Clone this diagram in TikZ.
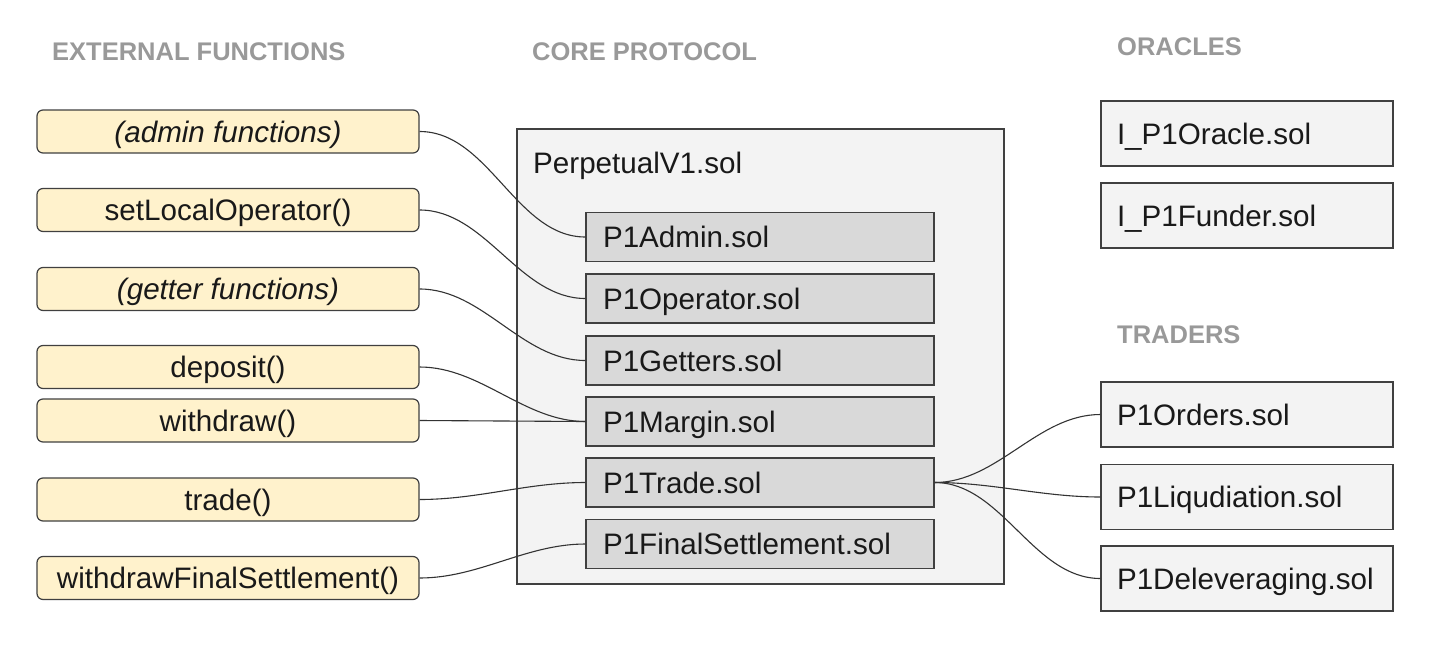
\documentclass[tikz,border=0pt]{standalone}
\usepackage{fontspec}
\setmainfont{Liberation Sans}
\begin{document}
\begin{tikzpicture}[x=1pt,y=-1pt,
  every node/.style={font=\fontsize{29.6}{34}\selectfont, text=black!90},
  tx/.style={text height=21.2pt, text depth=0pt},
  hdr/.style={font=\fontsize{25.5}{30}\selectfont\bfseries, text=hdrgray, anchor=west, inner sep=0pt, text height=18.3pt, text depth=0pt},
  lbox/.style={tx, draw=black!75, line width=1.2pt, fill=yfill, rounded corners=6pt, minimum width=382pt, minimum height=43pt, inner sep=0pt},
  ibox/.style={tx, draw=black!75, line width=1.2pt, fill=gray!30, minimum height=49pt, inner xsep=17pt, inner ysep=0pt, text width=314pt, align=left},
  obox/.style={tx, draw=black!75, line width=1.2pt, fill=lightfill, minimum height=65pt, inner xsep=16pt, inner ysep=0pt, text width=260pt, align=left},
  conn/.style={draw=black!80, line width=1.1pt}
]
\definecolor{yfill}{HTML}{FFF2CC}
\definecolor{lightfill}{HTML}{F3F3F3}
\definecolor{hdrgray}{HTML}{999999}
\useasboundingbox (0,0) rectangle (1440,656);

% headers
\node[hdr] (h1) at (52,51) {EXTERNAL FUNCTIONS};
\node[hdr] (h2) at (532,51) {CORE PROTOCOL};
\node[hdr] (h3) at (1117,46) {ORACLES};
\node[hdr] (h4) at (1117,334) {TRADERS};

% core container
\node[draw=black!75, line width=1.2pt, fill=lightfill, minimum width=487pt, minimum height=455pt, inner sep=0pt] (core) at (760.5,356.5) {};
\node[tx, anchor=west, inner sep=0pt] (perp) at (533,163) {PerpetualV1.sol};

% left boxes
\node[lbox] (admin) at (228,131.5) {\itshape (admin functions)};
\node[lbox] (setop) at (228,210) {setLocalOperator()};
\node[lbox] (getter) at (228,289) {\itshape (getter functions)};
\node[lbox] (deposit) at (228,367) {deposit()};
\node[lbox] (withdraw) at (228,420.5) {withdraw()};
\node[lbox] (trade) at (228,499.5) {trade()};
\node[lbox] (wfs) at (228,578) {withdrawFinalSettlement()};

% inner boxes
\node[ibox] (padmin) at (760,237) {P1Admin.sol};
\node[ibox] (poper) at (760,298.5) {P1Operator.sol};
\node[ibox] (pget) at (760,360.5) {P1Getters.sol};
\node[ibox] (pmargin) at (760,421.5) {P1Margin.sol};
\node[ibox] (ptrade) at (760,482.5) {P1Trade.sol};
\node[ibox] (pfinal) at (760,544) {P1FinalSettlement.sol};

% right boxes
\node[obox] (oracle) at (1247,133.5) {I\_P1Oracle.sol};
\node[obox] (funder) at (1247,215.5) {I\_P1Funder.sol};
\node[obox] (orders) at (1247,414.5) {P1Orders.sol};
\node[obox] (liq) at (1247,497) {P1Liqudiation.sol};
\node[obox] (delev) at (1247,578.5) {P1Deleveraging.sol};

% connectors
\draw[conn] (admin.east) to[out=0,in=180,looseness=0.9] (padmin.west);
\draw[conn] (setop.east) to[out=0,in=180,looseness=0.9] (poper.west);
\draw[conn] (getter.east) to[out=0,in=180,looseness=0.9] (pget.west);
\draw[conn] (deposit.east) to[out=0,in=180,looseness=0.9] (pmargin.west);
\draw[conn] (withdraw.east) -- (pmargin.west);
\draw[conn] (trade.east) to[out=0,in=180,looseness=0.9] (ptrade.west);
\draw[conn] (wfs.east) to[out=0,in=180,looseness=0.9] (pfinal.west);
\draw[conn] (ptrade.east) to[out=0,in=180,looseness=0.9] (orders.west);
\draw[conn] (ptrade.east) to[out=0,in=180,looseness=0.9] (liq.west);
\draw[conn] (ptrade.east) to[out=0,in=180,looseness=0.9] (delev.west);
\end{tikzpicture}
\end{document}
